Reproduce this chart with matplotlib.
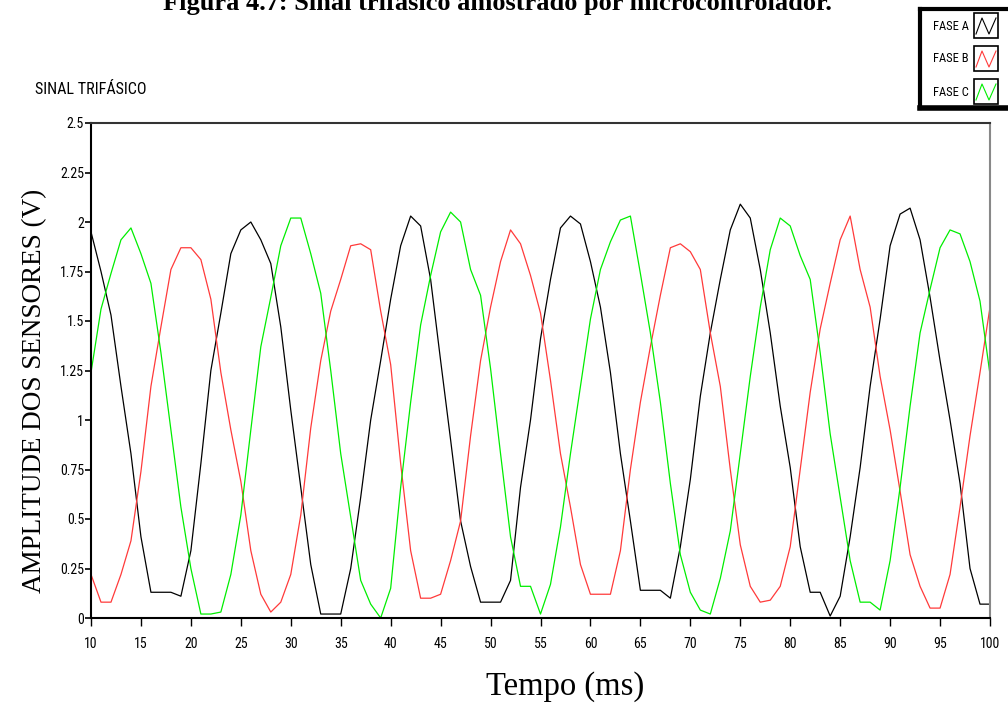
import numpy as np
import matplotlib
matplotlib.use("Agg")
import matplotlib.pyplot as plt
from matplotlib import font_manager
from matplotlib.patches import Rectangle

tempo_ms = list(range(10, 101))

fase_a = [1.95, 1.75, 1.53, 1.17, 0.83, 0.41, 0.13, 0.13, 0.13, 0.11,
          0.34, 0.78, 1.25, 1.54, 1.84, 1.96, 2.00, 1.91, 1.79, 1.47,
          1.05, 0.66, 0.27, 0.02, 0.02, 0.02, 0.25, 0.61, 1.00, 1.30,
          1.61, 1.88, 2.03, 1.98, 1.71, 1.30, 0.90, 0.49, 0.26, 0.08,
          0.08, 0.08, 0.19, 0.66, 1.00, 1.41, 1.71, 1.97, 2.03, 1.99,
          1.80, 1.57, 1.24, 0.83, 0.49, 0.14, 0.14, 0.14, 0.10, 0.36,
          0.70, 1.12, 1.44, 1.71, 1.96, 2.09, 2.02, 1.76, 1.44, 1.07,
          0.76, 0.36, 0.13, 0.13, 0.01, 0.11, 0.41, 0.76, 1.17, 1.51,
          1.88, 2.04, 2.07, 1.91, 1.62, 1.30, 1.00, 0.68, 0.25, 0.07,
          0.07]

fase_b = [0.22, 0.08, 0.08, 0.22, 0.39, 0.74, 1.17, 1.47, 1.76, 1.87,
          1.87, 1.81, 1.61, 1.24, 0.95, 0.69, 0.34, 0.12, 0.03, 0.08,
          0.22, 0.52, 0.96, 1.30, 1.55, 1.71, 1.88, 1.89, 1.86, 1.55,
          1.28, 0.78, 0.34, 0.10, 0.10, 0.12, 0.29, 0.49, 0.92, 1.30,
          1.57, 1.80, 1.96, 1.89, 1.73, 1.54, 1.20, 0.83, 0.56, 0.27,
          0.12, 0.12, 0.12, 0.34, 0.75, 1.09, 1.37, 1.63, 1.87, 1.89,
          1.85, 1.76, 1.44, 1.17, 0.75, 0.37, 0.16, 0.08, 0.09, 0.16,
          0.36, 0.75, 1.14, 1.46, 1.69, 1.91, 2.03, 1.76, 1.57, 1.22,
          0.95, 0.64, 0.32, 0.16, 0.05, 0.05, 0.22, 0.56, 0.92, 1.24,
          1.57]

fase_c = [1.24, 1.56, 1.74, 1.91, 1.97, 1.84, 1.69, 1.34, 0.95, 0.56,
          0.25, 0.02, 0.02, 0.03, 0.22, 0.52, 0.95, 1.37, 1.62, 1.88,
          2.02, 2.02, 1.84, 1.64, 1.25, 0.83, 0.51, 0.19, 0.07, 0.00,
          0.15, 0.66, 1.09, 1.48, 1.73, 1.95, 2.05, 2.00, 1.76, 1.63,
          1.26, 0.83, 0.41, 0.16, 0.16, 0.02, 0.17, 0.46, 0.83, 1.17,
          1.51, 1.76, 1.90, 2.01, 2.03, 1.74, 1.44, 1.09, 0.68, 0.32,
          0.13, 0.04, 0.02, 0.20, 0.44, 0.83, 1.22, 1.57, 1.86, 2.02,
          1.98, 1.83, 1.71, 1.34, 0.93, 0.61, 0.29, 0.08, 0.08, 0.04,
          0.29, 0.66, 1.07, 1.44, 1.66, 1.87, 1.96, 1.94, 1.80, 1.60,
          1.23]

nomes = ["FASE A", "FASE B", "FASE C"]
cores = ["#000000", "#ff3a3a", "#00ee00"]
y_ticks = [0, 0.25, 0.5, 0.75, 1, 1.25, 1.5, 1.75, 2, 2.25, 2.5]
y_labels = ["0", "0.25", "0.5", "0.75", "1", "1.25", "1.5", "1.75", "2", "2.25", "2.5"]
x_ticks = list(range(10, 101, 5))

# fonte estreita, se houver; senao DejaVu menor
instaladas = {f.name for f in font_manager.fontManager.ttflist}
estreitas = ["Liberation Sans Narrow", "Roboto Condensed", "Open Sans Condensed",
             "DejaVu Sans Condensed", "Noto Sans Condensed"]
achada = [n for n in estreitas if n in instaladas]
if achada:
    narrow = [achada[0], "DejaVu Sans"]
    k = 1.0
else:
    narrow = ["DejaVu Sans"]
    k = 0.78
serif = ["Liberation Serif", "DejaVu Serif"]

fig = plt.figure(figsize=(10.08, 7.04), dpi=100)
ax = fig.add_axes([91 / 1008, 1 - 618 / 704, 899 / 1008, 495 / 704])

for serie, cor in zip([fase_a, fase_b, fase_c], cores):
    ax.plot(tempo_ms, serie, color=cor, lw=0.9)

ax.set_xlim(10, 100)
ax.set_ylim(0, 2.5)
ax.set_yticks(y_ticks)
ax.set_yticklabels(y_labels, family=narrow, fontsize=10 * k, stretch="condensed")
ax.set_xticks(x_ticks)
ax.set_xticklabels([str(t) for t in x_ticks], family=narrow, fontsize=10 * k,
                   stretch="condensed")
ax.tick_params(axis="y", direction="out", length=4, width=1.2, pad=1)
ax.tick_params(axis="x", direction="out", length=6, width=1, pad=8)

ax.spines["left"].set_color("#000000")
ax.spines["bottom"].set_color("#000000")
ax.spines["top"].set_color("#333333")
ax.spines["right"].set_color("#888888")
for s in ax.spines.values():
    s.set_linewidth(1.5)

fig.text(35 / 1008, 1 - 391 / 704, "AMPLITUDE DOS SENSORES (V)", family=serif,
         fontsize=19.5, rotation=90, ha="center", va="center")
fig.text(565 / 1008, 1 - 695 / 704, "Tempo (ms)", family=serif, fontsize=23.5,
         ha="center", va="baseline")

fig.text(35 / 1008, 1 - 90 / 704, "SINAL TRIFÁSICO", family=narrow, fontsize=11.6 * k,
         stretch="condensed", va="center", ha="left")
fig.text(497 / 1008, 1 - 10 / 704,
         "Figura 4.7: Sinal trifásico amostrado por microcontrolador.",
         family=serif, fontsize=19, fontweight="bold", ha="center", va="baseline")

# legenda desenhada a parte, como no painel original
leg = fig.add_axes([920 / 1008, 1 - 108 / 704, 100 / 1008, 99 / 704])
leg.set_xlim(0, 100)
leg.set_ylim(99, 0)
leg.set_xticks([])
leg.set_yticks([])
for s in leg.spines.values():
    s.set_linewidth(3)
    s.set_color("#000000")
leg.spines["bottom"].set_linewidth(4)

for i, (nome, cor) in enumerate(zip(nomes, cores)):
    y0 = 4 + i * 33
    leg.text(13, y0 + 13, nome, family=narrow, fontsize=9 * k, stretch="condensed",
             va="center", ha="left")
    leg.add_patch(Rectangle((54, y0), 24, 25, fc="white", ec="#000000", lw=1.2))
    leg.plot([56, 62, 69, 76], [y0 + 21, y0 + 5, y0 + 21, y0 + 5], color=cor, lw=0.8)

fig.savefig("out.png", dpi=100)
